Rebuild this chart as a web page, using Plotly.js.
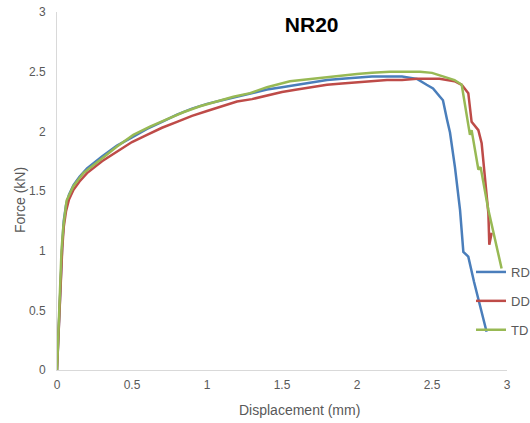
<!DOCTYPE html>
<html>
<head>
<meta charset="utf-8">
<script src="https://cdn.plot.ly/plotly-3.0.1.min.js"></script>
<style>html,body{margin:0;padding:0;background:#fff}#chart{width:530px;height:423px}</style>
</head>
<body>
<div id="chart"></div>
<script>
const seriesNames = ["RD", "DD", "TD"];
const xTicks = [0, 0.5, 1, 1.5, 2, 2.5, 3];
const yTicks = [0, 0.5, 1, 1.5, 2, 2.5, 3];

const rdX = [0, 0.01, 0.02, 0.035, 0.045, 0.06, 0.08, 0.11, 0.15, 0.2, 0.3, 0.4, 0.5, 0.6, 0.7, 0.8, 0.9, 1.0, 1.1, 1.2, 1.3, 1.4, 1.5, 1.6, 1.7, 1.8, 1.9, 2.0, 2.1, 2.2, 2.3, 2.35, 2.4, 2.464, 2.507, 2.553, 2.573, 2.6, 2.62, 2.653, 2.687, 2.709, 2.742, 2.78, 2.82, 2.864];
const rdY = [0, 0.35, 0.7, 1.05, 1.25, 1.38, 1.47, 1.55, 1.62, 1.69, 1.79, 1.88, 1.95, 2.02, 2.08, 2.14, 2.19, 2.23, 2.26, 2.29, 2.32, 2.35, 2.37, 2.39, 2.41, 2.43, 2.44, 2.45, 2.46, 2.46, 2.46, 2.45, 2.44, 2.39, 2.36, 2.29, 2.26, 2.10, 1.99, 1.70, 1.34, 0.99, 0.95, 0.74, 0.53, 0.32];

const ddX = [0, 0.01, 0.02, 0.035, 0.045, 0.06, 0.08, 0.11, 0.15, 0.2, 0.3, 0.4, 0.5, 0.6, 0.7, 0.8, 0.9, 1.0, 1.1, 1.2, 1.3, 1.4, 1.5, 1.6, 1.7, 1.8, 1.9, 2.0, 2.1, 2.2, 2.3, 2.4, 2.5, 2.55, 2.6, 2.65, 2.698, 2.742, 2.764, 2.809, 2.831, 2.853, 2.876, 2.882, 2.898];
const ddY = [0, 0.33, 0.68, 1.02, 1.2, 1.33, 1.43, 1.51, 1.58, 1.65, 1.75, 1.83, 1.91, 1.97, 2.03, 2.08, 2.13, 2.17, 2.21, 2.25, 2.27, 2.30, 2.33, 2.35, 2.37, 2.39, 2.40, 2.41, 2.42, 2.43, 2.43, 2.44, 2.44, 2.44, 2.43, 2.42, 2.39, 2.32, 2.08, 2.01, 1.90, 1.62, 1.31, 1.05, 1.15];

const tdX = [0, 0.01, 0.02, 0.03, 0.042, 0.064, 0.109, 0.176, 0.287, 0.398, 0.509, 0.62, 0.731, 0.842, 0.953, 1.064, 1.176, 1.287, 1.4, 1.553, 1.7, 1.887, 2.0, 2.1, 2.22, 2.3, 2.42, 2.5, 2.553, 2.6, 2.65, 2.698, 2.742, 2.753, 2.764, 2.809, 2.824, 2.876, 2.964];
const tdY = [0, 0.36, 0.72, 1.0, 1.2, 1.42, 1.54, 1.65, 1.76, 1.87, 1.97, 2.04, 2.10, 2.16, 2.21, 2.25, 2.29, 2.32, 2.37, 2.42, 2.44, 2.47, 2.48, 2.49, 2.50, 2.50, 2.50, 2.49, 2.47, 2.45, 2.43, 2.39, 2.04, 1.97, 2.01, 1.68, 1.70, 1.34, 0.85];

const colors = ["#4A7EBB", "#BE4B48", "#98B954"];
const xs = [rdX, ddX, tdX];
const ys = [rdY, ddY, tdY];

const data = seriesNames.map((n, i) => ({
  type: "scatter", mode: "lines", name: n, legendgroup: n,
  x: xs[i], y: ys[i],
  line: {color: colors[i], width: 2.5}
}));

const gray = "#595959";
const font = {family: "Liberation Sans, Arial, sans-serif", size: 12, color: gray};

const layout = {
  width: 530, height: 423,
  margin: {l: 57, r: 23, t: 12, b: 53, pad: 0, autoexpand: false},
  paper_bgcolor: "#fff", plot_bgcolor: "#fff",
  font: font,
  title: {
    text: "<b>NR20</b>",
    font: {family: "Liberation Sans, Arial, sans-serif", size: 21, color: "#000"},
    x: 300 / 530, xref: "paper", xanchor: "center",
    y: 1 - 25 / 423, yref: "container", yanchor: "middle"
  },
  xaxis: {
    range: [0, 3], tickvals: xTicks, ticktext: xTicks.map(String),
    showgrid: false, zeroline: false, showline: true, linecolor: "#D9D9D9", linewidth: 1,
    ticks: "", ticklabelstandoff: 4, tickfont: font, fixedrange: true, automargin: false
  },
  yaxis: {
    range: [0, 3], tickvals: yTicks, ticktext: yTicks.map(String),
    showgrid: false, zeroline: false, showline: true, linecolor: "#D9D9D9", linewidth: 1,
    ticks: "", ticklabelstandoff: 8, tickfont: font, fixedrange: true, automargin: false
  },
  showlegend: true,
  legend: {
    x: (471 - 57) / 450, xanchor: "left", xref: "paper",
    y: (370 - 257) / 358, yanchor: "top", yref: "paper",
    bgcolor: "rgba(0,0,0,0)", borderwidth: 0,
    font: {family: "Liberation Sans, Arial, sans-serif", size: 13, color: gray},
    traceorder: "grouped", tracegroupgap: 9, itemwidth: 30
  },
  annotations: [
    {text: "Displacement (mm)", xref: "paper", yref: "paper",
     x: (299 - 57) / 450, y: (370 - 410) / 358, xanchor: "center", yanchor: "middle",
     showarrow: false, font: {family: "Liberation Sans, Arial, sans-serif", size: 14, color: gray}},
    {text: "Force (kN)", xref: "paper", yref: "paper", textangle: -90,
     x: (20 - 57) / 450, y: (370 - 200) / 358, xanchor: "center", yanchor: "middle",
     showarrow: false, font: {family: "Liberation Sans, Arial, sans-serif", size: 14, color: gray}}
  ]
};

Plotly.newPlot("chart", data, layout, {displayModeBar: false, staticPlot: true});
</script>
</body>
</html>
